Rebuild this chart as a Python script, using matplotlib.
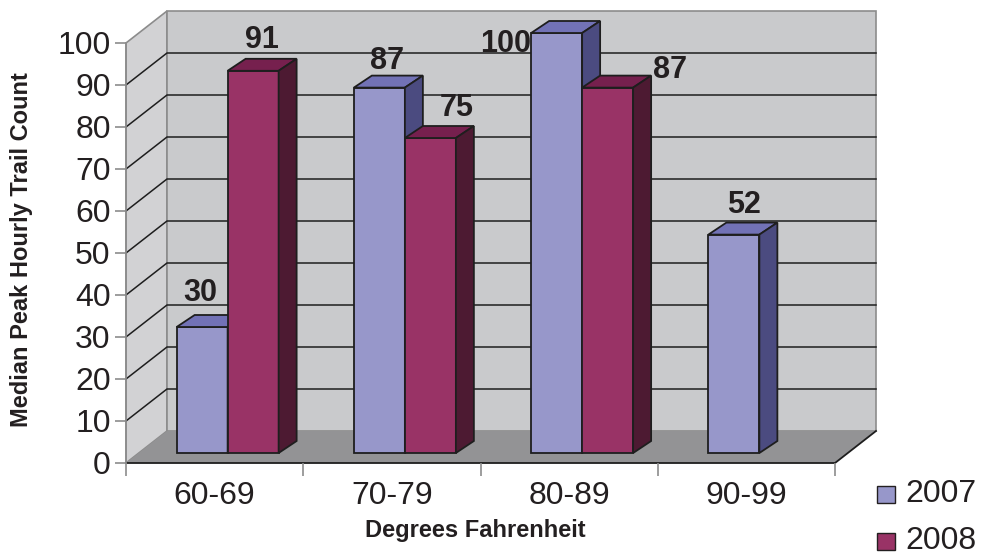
import matplotlib
matplotlib.use('Agg')
import matplotlib.pyplot as plt
from matplotlib.patches import Polygon

plt.rcParams['font.family'] = ['Liberation Sans', 'DejaVu Sans']

categories = ['60-69', '70-79', '80-89', '90-99']
series_names = ['2007', '2008']
counts_2007 = [30, 87, 100, 52]
counts_2008 = [91, 75, 87, None]

# where each value label sits, in pixels from the centre of the bar's front top edge
label_offsets_2007 = [(-2, 34), (8, 27), (-51, -11), (10, 30)]
label_offsets_2008 = [(9, 31), (26, 30), (62, 18), None]

# colours: front, top, side
colors_2007 = ('#9797CA', '#7272B6', '#4B4B80')
colors_2008 = ('#993366', '#76204E', '#4D1A32')
WALL = '#C9CACC'
SIDE_WALL = '#D2D2D4'
FLOOR = '#939395'

# fake 3d geometry, in pixels
WALL_DEPTH = (41, 32)
BAR_SHIFT = (13, 10)
BAR_DEPTH = (18, 12)
BAR_WIDTH = 0.2877
YMAX = 100

fig = plt.figure(figsize=(9.81, 5.55), dpi=100)
ax = fig.add_axes([126 / 981, 92 / 555, 709 / 981, 420 / 555])
ax.set_xlim(0, len(categories))
ax.set_ylim(0, YMAX)
ax.set_facecolor('none')

# pixel -> data conversions
px_x = len(categories) / 709
px_y = YMAX / 420


def px(d):
    return d[0] * px_x, d[1] * px_y


wx, wy = px(WALL_DEPTH)
sx, sy = px(BAR_SHIFT)
dx, dy = px(BAR_DEPTH)
n = len(categories)

# walls and floor
ax.add_patch(Polygon([(0, 0), (0, YMAX), (wx, YMAX + wy), (wx, wy)],
                     facecolor=SIDE_WALL, edgecolor='#8C8C8C', lw=1.2,
                     zorder=0, clip_on=False))
ax.add_patch(Polygon([(wx, wy), (wx, YMAX + wy), (n + wx, YMAX + wy), (n + wx, wy)],
                     facecolor=WALL, edgecolor='#8C8C8C', lw=1.2,
                     zorder=0, clip_on=False))
ax.add_patch(Polygon([(0, 0), (n, 0), (n + wx, wy), (wx, wy)],
                     facecolor=FLOOR, edgecolor='none', zorder=1, clip_on=False))
ax.plot([0, n, n + wx], [0, 0, wy], color='#1E1E1E', lw=1.3, zorder=1.2,
        clip_on=False, solid_joinstyle='miter')

# gridlines on the back and side walls
for v in range(10, YMAX, 10):
    ax.plot([0, wx, n + wx], [v, v + wy, v + wy], color='#1E1E1E', lw=1.1,
            zorder=1.5, clip_on=False)


def draw_bar(x0, value, cols, z):
    front, top, side = cols
    x1 = x0 + BAR_WIDTH
    y0 = sy
    y1 = sy + value
    kw = dict(edgecolor='#1E1E1E', lw=1.3, zorder=z, clip_on=False,
              joinstyle='miter')
    ax.add_patch(Polygon([(x0, y0), (x1, y0), (x1, y1), (x0, y1)],
                         facecolor=front, **kw))
    ax.add_patch(Polygon([(x0, y1), (x1, y1), (x1 + dx, y1 + dy), (x0 + dx, y1 + dy)],
                         facecolor=top, **kw))
    ax.add_patch(Polygon([(x1, y0), (x1 + dx, y0 + dy), (x1 + dx, y1 + dy), (x1, y1)],
                         facecolor=side, **kw))


gap = (1 - 2 * BAR_WIDTH) / 2
z = 3
for i in range(n):
    for j, (vals, cols, offs) in enumerate([(counts_2007, colors_2007, label_offsets_2007),
                                            (counts_2008, colors_2008, label_offsets_2008)]):
        v = vals[i]
        if v is None:
            continue
        x0 = i + gap + j * BAR_WIDTH + sx
        draw_bar(x0, v, cols, z)
        z += 1
        ax.annotate(str(v), xy=(x0 + BAR_WIDTH / 2, sy + v), xytext=offs[i],
                    textcoords='offset pixels', ha='center', va='center',
                    fontsize=22, fontweight='bold', color='#231F20',
                    zorder=50, annotation_clip=False)

# axes, ticks and labels
for s in ['top', 'right']:
    ax.spines[s].set_visible(False)
ax.spines['left'].set_color('#8C8C8C')
ax.spines['left'].set_linewidth(1.2)
ax.spines['bottom'].set_visible(False)
ax.set_yticks(range(0, YMAX + 1, 10))
ax.tick_params(axis='y', length=8, width=1.2, color='#8C8C8C', labelsize=23,
               labelcolor='#231F20', pad=3)
ax.set_xticks(range(n + 1))
ax.set_xticklabels([])
ax.set_xticks([i + 0.5 for i in range(n)], minor=True)
ax.set_xticklabels(categories, minor=True)
ax.tick_params(axis='x', which='major', length=9, width=1.2, color='#8C8C8C')
ax.tick_params(axis='x', which='minor', length=0, labelsize=23,
               labelcolor='#231F20', pad=13)

fig.text(22 / 981, 1 - 250 / 555, 'Median Peak Hourly Trail Count', rotation=90,
         ha='center', va='center', fontsize=17, fontweight='bold', color='#231F20')
fig.text(475 / 981, 1 - 531 / 555, 'Degrees Fahrenheit', ha='center', va='center',
         fontsize=17, fontweight='bold', color='#231F20')

# legend
for k, (name, cols) in enumerate(zip(series_names, [colors_2007, colors_2008])):
    yc = 1 - (494 + 47 * k) / 555
    fig.patches.append(plt.Rectangle((877 / 981, yc - 8.5 / 555), 18 / 981, 17 / 555,
                                     transform=fig.transFigure, facecolor=cols[0],
                                     edgecolor='#231F20', lw=1.0))
    fig.text(905 / 981, yc, name, ha='left', va='center', fontsize=23,
             color='#231F20')

fig.savefig('out.png', dpi=100)
